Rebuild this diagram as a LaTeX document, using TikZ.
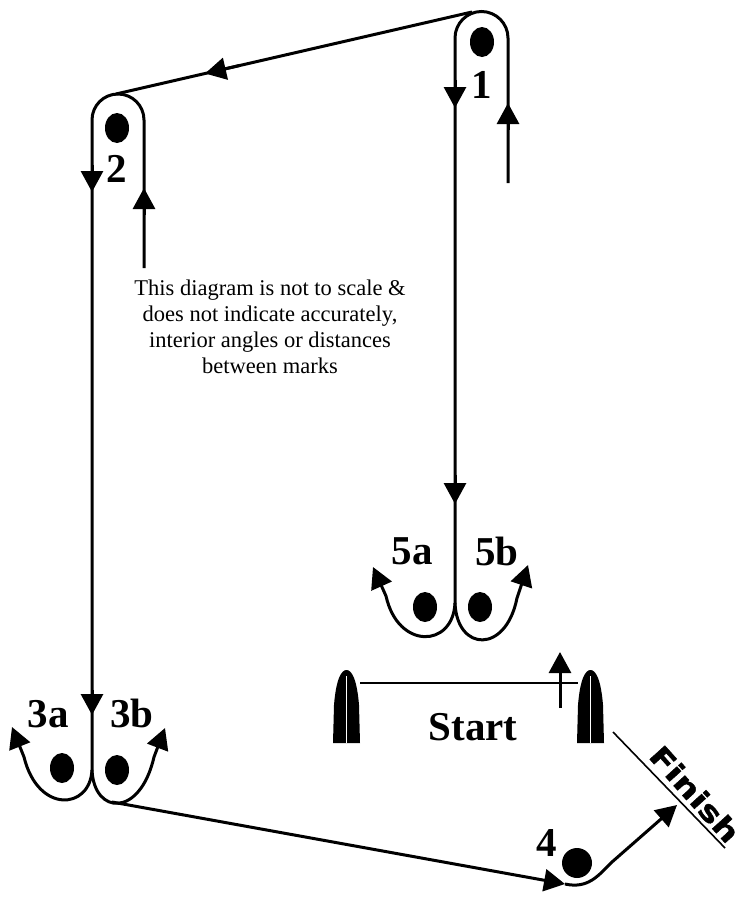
\documentclass[tikz,border=0pt]{standalone}
\usepackage{fontspec}
\setmainfont{Liberation Serif}
\newfontfamily\finfont[FakeStretch=1.25,FakeBold=1.5]{DejaVu Sans Bold}
\usetikzlibrary{arrows.meta,shapes.geometric}
\begin{document}
\begin{tikzpicture}[x=1pt,y=-1pt,
  course/.style={line width=3pt},
  arr/.style={line width=3pt,-{Triangle[length=21pt,width=22pt]}},
  buoy/.style={ellipse,fill=black,minimum width=24pt,minimum height=30pt,inner sep=0pt},
  lbl/.style={font=\fontsize{41}{41}\selectfont\bfseries,inner sep=0pt},
  thinline/.style={line width=1.6pt},
  boat/.style={fill=black}]
\useasboundingbox (0,0) rectangle (738,897);
% coordinates
\coordinate (m1in) at (508,183);
\coordinate (m1r) at (508,38);
\coordinate (m1l) at (455,38);
\coordinate (c5) at (455,603);
\coordinate (m2in) at (144,268);
\coordinate (m2r) at (144,120);
\coordinate (m2l) at (92,120);
\coordinate (c3) at (92,770);
\coordinate (top1) at (472,12);
\coordinate (top2) at (116,94);
\coordinate (t3a) at (12,727);
\coordinate (t3b) at (165,728);
\coordinate (b3) at (112,802);
\coordinate (p4) at (565,884);
\coordinate (t4) at (677,805);
\coordinate (t5a) at (373,567);
\coordinate (t5b) at (528,565);
% mark 1 loop and leg down to 5
\draw[course] (m1in) -- (m1r) .. controls (508,23.4) and (496.1,11.5) .. (481.5,11.5)
  .. controls (466.9,11.5) and (455,23.4) .. (m1l) -- (c5);
\draw[arr] (455,80) -- (455,108);
\draw[arr] (508,130) -- (508,103);
\draw[arr] (455,475) -- (455,504);
% leg 1 -> 2
\draw[course] (top1) -- (top2);
\draw[arr] (240,65.4) -- (205,73.5);
% mark 2 loop and leg down to 3
\draw[course] (m2in) -- (m2r) .. controls (144,105.6) and (132.4,94) .. (118,94)
  .. controls (103.6,94) and (92,105.6) .. (m2l) -- (c3);
\draw[arr] (92,165) -- (92,192);
\draw[arr] (144,215) -- (144,188);
\draw[arr] (92,690) -- (92,715);
% gate 3
\draw[arr] (c3) .. controls (90,810) and (38,814) .. (24,757) -- (t3a);
\draw[arr] (c3) .. controls (94,815) and (140,818) .. (154,757) -- (t3b);
% leg 3 -> 4 -> finish
\draw[arr] (b3) -- (p4);
\draw[arr] (p4) .. controls (588,889) and (598,876) .. (612,862) -- (t4);
% gate 5
\draw[arr] (c5) .. controls (453,648) and (398,650) .. (386,596) -- (t5a);
\draw[arr] (c5) .. controls (457,652) and (506,654) .. (517,598) -- (t5b);
% buoys
\node[buoy] (b1) at (482,42) {};
\node[buoy] (b2) at (117,128) {};
\node[buoy] (b3a) at (62,768) {};
\node[buoy] (b3b) at (117,770) {};
\node[buoy] (b5a) at (425,607) {};
\node[buoy] (b5b) at (480,607) {};
\node[circle,fill=black,minimum size=30pt,inner sep=0pt] (b4) at (577,863) {};
% labels
\node[lbl] (l1) at (482,85) {1};
\node[lbl] (l2) at (117,169) {2};
\node[lbl] (l3a) at (48,714) {3a};
\node[lbl] (l3b) at (132,713) {3b};
\node[lbl] (l5a) at (412,551) {5a};
\node[lbl] (l5b) at (497,551) {5b};
\node[lbl] (l4) at (547,843) {4};
% start line
\draw[thinline] (360,683) -- (578,683);
\draw[arr] (560,708) -- (560,652);
\fill[boat] (333,743) -- (334,705) .. controls (336,680) and (341,670) .. (346.5,670)
  .. controls (352,670) and (357,680) .. (359,705) -- (360,743) -- cycle;
\draw[white,line width=0.8pt] (346.5,676) -- (346.5,743);
\fill[boat] (577,743) -- (578,705) .. controls (580,680) and (585,670) .. (590.5,670)
  .. controls (596,670) and (601,680) .. (603,705) -- (604,743) -- cycle;
\draw[white,line width=0.8pt] (590.5,676) -- (590.5,743);
\node[lbl] (start) at (473,727) {Start};
% finish line
\draw[thinline] (613,732) -- (725,848);
\node[font=\finfont\fontsize{28}{28}\selectfont,inner sep=0pt,rotate=-48] (fin) at (695,794) {Finish};
% note
\node[font=\fontsize{22.5}{26}\selectfont,align=center,inner sep=0pt] (note) at (270,327)
  {This diagram is not to scale \&\\does not indicate accurately,\\interior angles or distances\\between marks};
\end{tikzpicture}
\end{document}
